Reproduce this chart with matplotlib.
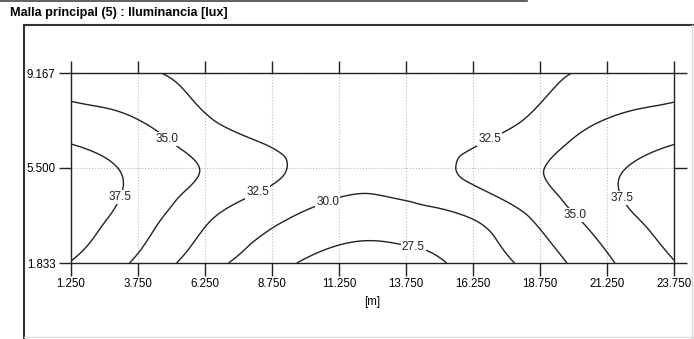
import numpy as np
import matplotlib
matplotlib.use("Agg")
from matplotlib import pyplot as plt
from matplotlib.lines import Line2D
import matplotlib.tri as mtri

plt.rcParams['font.family'] = ['Liberation Sans', 'DejaVu Sans']

# grid points [m]
xs = [1.25, 3.75, 6.25, 8.75, 11.25, 13.75, 16.25, 18.75, 21.25, 23.75]
ys = [1.833, 3.667, 5.5, 7.333, 9.167]

# illuminance [lux], one row per y
lux_y1 = [37.4, 34.57, 31.04, 28.37, 26.4, 26.5, 28.44, 31.1, 34.63, 37.4]
lux_y2 = [38.8, 36.3, 33.0, 30.65, 29.0, 29.1, 30.24, 33.16, 36.4, 38.8]
lux_y3 = [38.7, 36.94, 34.86, 32.97, 31.2, 31.2, 33.02, 34.89, 36.99, 38.7]
lux_y4 = [36.0, 35.05, 32.8, 31.3, 31.0, 31.0, 31.3, 33.1, 35.1, 36.0]
lux_y5 = [33.9, 32.88, 31.9, 31.2, 30.8, 30.8, 31.2, 32.0, 32.94, 33.9]

levels = [27.5, 30.0, 32.5, 35.0, 37.5]
xticks = xs
yticks = [1.833, 5.5, 9.167]
title = "Malla principal (5) : Iluminancia [lux]"
xlabel = "[m]"

Z = np.array([lux_y1, lux_y2, lux_y3, lux_y4, lux_y5])
X, Y = np.meshgrid(xs, ys)

# smooth contouring through matplotlib's triangulation refiner
tri = mtri.Triangulation(X.ravel(), Y.ravel())
refiner = mtri.UniformTriRefiner(tri)
tri_f, z_f = refiner.refine_field(Z.ravel(), subdiv=4)

fig = plt.figure(figsize=(6.94, 3.39), dpi=100)
ax = fig.add_axes([71/694, 76/339, 603/694, 190/339])

cs = ax.tricontour(tri_f, z_f, levels=levels, colors='#222222', linewidths=1.0)
label_pos = [(3.0, 4.42), (4.94, 6.73), (8.04, 4.96), (10.8, 4.26), (14.0, 2.37),
             (16.8, 6.77), (20.0, 3.61), (21.85, 4.38)]
labels = ax.clabel(cs, fmt='%.1f', fontsize=8.5, manual=label_pos, inline=False)
for t in labels:
    t.set_rotation(0)
    t.set_color('#222222')
    t.set_bbox(dict(facecolor='white', edgecolor='none', pad=0.8))

ax.set_xlim(xs[0], xs[-1])
ax.set_ylim(ys[0], ys[-1])
ax.set_xticks(xticks)
ax.set_xticklabels(['%.3f' % v for v in xticks])
ax.set_yticks(yticks)
ax.set_yticklabels(['%.3f' % v for v in yticks])
ax.tick_params(direction='out', length=9, width=1.0, color='#222222', labelsize=8.3,
               top=True, right=True, labeltop=False, labelright=False, pad=2)
ax.grid(True, linestyle=':', color='#bbbbbb', linewidth=0.8)
for s in ax.spines.values():
    s.set_color('#222222')
    s.set_linewidth(1.0)
ax.set_xlabel(xlabel, fontsize=8.3, labelpad=4)

# page decorations
fig.text(10/694, 1 - 13/339, title, fontsize=9.1, fontweight='bold', va='center', ha='left')
fig.add_artist(Line2D([0, 527/694], [1 - 1/339, 1 - 1/339], color='#444444', lw=1.2))
fig.add_artist(Line2D([24/694, 24/694], [0, 1 - 25/339], color='#333333', lw=1.5))
fig.add_artist(Line2D([24/694, 1], [1 - 25/339, 1 - 25/339], color='#333333', lw=1.5))
fig.add_artist(Line2D([692/694, 692/694], [0, 1 - 25/339], color='#dddddd', lw=1.0))
fig.add_artist(Line2D([24/694, 1], [2/339, 2/339], color='#dddddd', lw=1.0))

fig.savefig('out.png', dpi=100)
